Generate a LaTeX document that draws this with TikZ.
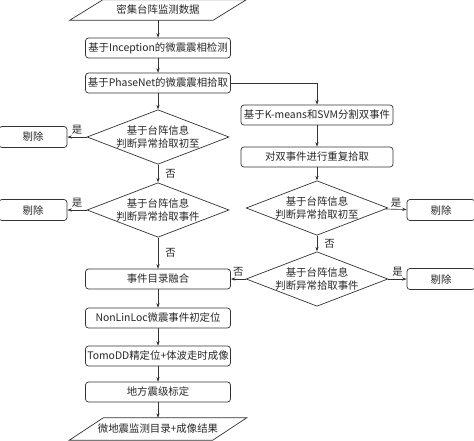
\documentclass[tikz,border=0pt]{standalone}
\usepackage{fontspec}
\setmainfont{Noto Sans CJK SC}
\usetikzlibrary{positioning,arrows.meta,shapes.geometric,calc}

\begin{document}
\begin{tikzpicture}[
    x=1pt, y=-1pt,
    >=Stealth,
    font=\fontsize{10.4}{12.8}\selectfont,
    box/.style={draw=black!80, rounded corners=3pt, minimum height=20pt, align=center,
                minimum width=145pt, inner sep=1pt, line width=0.7pt, text=black!85},
    sidebox/.style={box, minimum width=152pt},
    rejbox/.style={box, minimum width=68pt, minimum height=21pt},
    iobox/.style={minimum width=143pt, minimum height=20pt, inner sep=0pt, align=center, text=black!85},
    check/.style={draw=black!80, diamond, aspect=2.6, minimum width=142pt, minimum height=54pt,
                inner sep=0pt, align=center, line width=0.7pt, text=black!85},
    arr/.style={-{Stealth[length=4.5pt, width=3.2pt]}, line width=0.6pt, color=black!80},
    lbl/.style={inner sep=1pt, text=black!85},
  ]
  \useasboundingbox (0,0) rectangle (474,440);
  \clip (0,0) rectangle (474,440);

  % --- Main column (x=158) ---
  \node[iobox] (in)   at (158, 10) {密集台阵监测数据};
  \node[box]   (det)  at (158, 48) {基于Inception的微震震相检测};
  \node[box]   (pick) at (158, 83) {基于PhaseNet的微震震相拾取};
  \node[check] (c1)   at (158,137) {基于台阵信息\\判断异常拾取初至};
  \node[check] (c2)   at (158,210) {基于台阵信息\\判断异常拾取事件};
  \node[box]   (merge)at (158,279) {事件目录融合};
  \node[box]   (loc)  at (158,318) {NonLinLoc微震事件初定位};
  \node[box]   (tomo) at (158,356) {TomoDD精定位+体波走时成像};
  \node[box]   (mag)  at (158,392) {地方震级标定};
  \node[iobox, minimum height=22pt] (out) at (158,429) {微地震监测目录+成像结果};

  % --- Rejected picks (left) ---
  \node[rejbox] (r1) at (33,137) {剔除};
  \node[rejbox] (r2) at (33,210) {剔除};

  % --- Double-event branch (x=317) ---
  \node[sidebox] (km)  at (317,115) {基于K-means和SVM分割双事件};
  \node[sidebox] (rep) at (317,157) {对双事件进行重复拾取};
  \node[check, minimum width=140pt] (c3) at (317,208) {基于台阵信息\\判断异常拾取初至};
  \node[check, minimum width=140pt] (c4) at (317,279) {基于台阵信息\\判断异常拾取事件};
  \node[rejbox] (r3) at (441,210) {剔除};
  \node[rejbox] (r4) at (441,279) {剔除};

  % --- Input / output parallelograms ---
  \draw[line width=0.7pt, black!80] ($(in.south west)+(-16.5,0)$) -- ($(in.south east)+(-16.5,0)$)
        -- ($(in.north east)+(16.5,0)$) -- ($(in.north west)+(16.5,0)$) -- cycle;
  \draw[line width=0.7pt, black!80] ($(out.south west)+(-17,0)$) -- ($(out.south east)+(-17,0)$)
        -- ($(out.north east)+(17,0)$) -- ($(out.north west)+(17,0)$) -- cycle;

  % --- Main flow ---
  \draw[arr] (in.south) -- (det);
  \draw[arr] (det) -- (pick);
  \draw[arr] (pick) -- (c1);
  \draw[arr] (c1) -- node[lbl, right=6pt] {否} (c2);
  \draw[arr] (c2) -- node[lbl, right=6pt] {否} (merge);
  \draw[arr] (merge) -- (loc);
  \draw[arr] (loc) -- (tomo);
  \draw[arr] (tomo) -- (mag);
  \draw[arr] (mag) -- (out.north);

  \draw[arr] (c1) -- node[lbl, above=1pt] {是} (r1);
  \draw[arr] (c2) -- node[lbl, above=1pt] {是} (r2);

  % --- Branch: picks -> double events -> back to merge ---
  \draw[arr] (pick.east) -| (km.north);
  \draw[arr] (km) -- (rep);
  \draw[arr] (rep) -- (c3);
  \draw[arr] (c3) -- node[lbl, right=6pt] {否} (c4);
  \draw[arr] (c3) -- node[lbl, above=1pt] {是} (r3);
  \draw[arr] (c4) -- node[lbl, above=1pt] {是} (r4);
  \draw[arr] (c4) -- node[lbl, above=1pt] {否} (merge);
\end{tikzpicture}
\end{document}
